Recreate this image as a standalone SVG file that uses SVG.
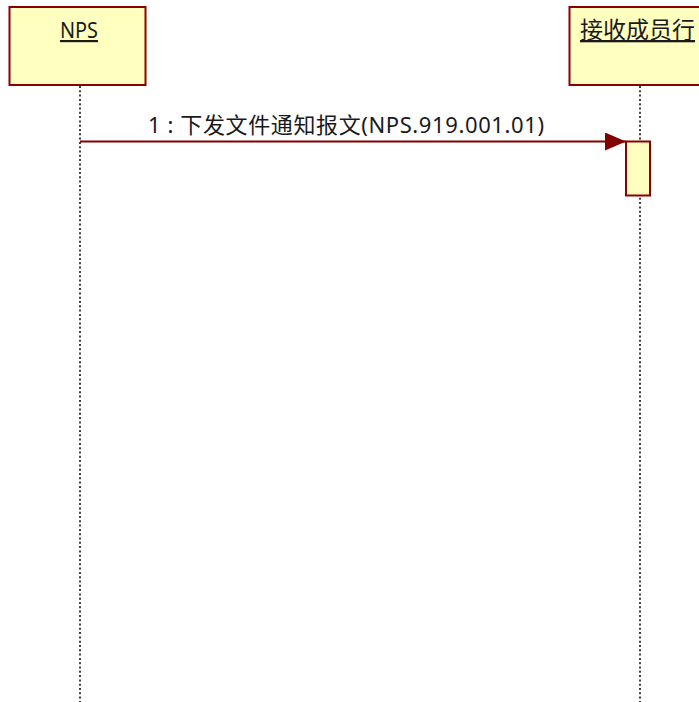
<svg xmlns="http://www.w3.org/2000/svg" width="699" height="702" viewBox="0 0 699 702">
<style>
.box{fill:#ffffc0;stroke:#8b0000;stroke-width:2}
.life{stroke:#000;stroke-width:1.5;stroke-dasharray:2 2.3;fill:none}
.txt{font-family:"Noto Sans","Noto Sans CJK SC",sans-serif;font-size:22px;fill:#1a1a1a}
.msg{stroke:#800000;stroke-width:2;fill:none}
</style>
<defs>
<marker id="arr" markerUnits="userSpaceOnUse" markerWidth="22" markerHeight="20" refX="21" refY="9" orient="auto">
<path d="M0,0 L21,9 L0,18 Z" fill="#800000"/>
</marker>
</defs>
<rect width="699" height="702" fill="#fff"/>
<g id="connectors">
<line class="life" x1="80" y1="86" x2="80" y2="702"/>
<line class="life" x1="640" y1="86" x2="640" y2="702"/>
<line class="msg" x1="80" y1="141.5" x2="626" y2="141.5" marker-end="url(#arr)"/>
<text class="txt" x="148" y="133" textLength="396" lengthAdjust="spacing">1 : 下发文件通知报文(NPS.919.001.01)</text>
</g>
<g id="node-nps">
<rect class="box" x="9.5" y="7" width="136" height="78"/>
<text class="txt" x="60" y="38" textLength="38" lengthAdjust="spacingAndGlyphs" text-decoration="underline">NPS</text>
</g>
<g id="node-member">
<rect class="box" x="569.5" y="7" width="140" height="78"/>
<text class="txt" x="580" y="38" text-decoration="underline" style="font-size:23px">接收成员行</text>
</g>
<g id="activation">
<rect class="box" x="626" y="141.5" width="24" height="54"/>
</g>
</svg>
